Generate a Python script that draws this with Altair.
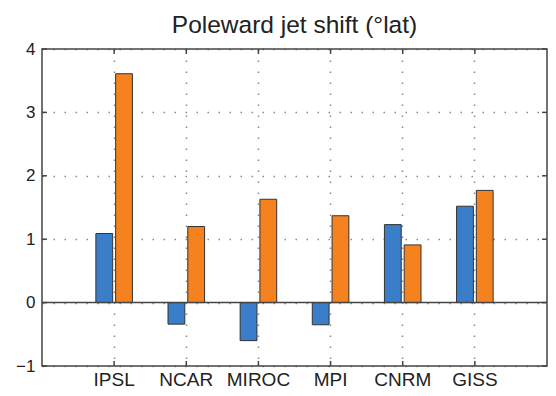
import altair as alt
import pandas as pd

# ---- data ----
models = ["IPSL", "NCAR", "MIROC", "MPI", "CNRM", "GISS"]
series_a = [1.09, -0.34, -0.60, -0.35, 1.23, 1.52]   # blue bars
series_b = [3.61, 1.20, 1.63, 1.37, 0.91, 1.77]      # orange bars
series_names = ["A", "B"]
series_colors = ["#3a7dc9", "#f5821f"]
y_ticks = [-1, 0, 1, 2, 3, 4]
title_text = "Poleward jet shift (°lat)"

rows = []
for m, a, b in zip(models, series_a, series_b):
    rows.append({"model": m, "series": series_names[0], "value": a})
    rows.append({"model": m, "series": series_names[1], "value": b})
bars_df = pd.DataFrame(rows)
cat_df = pd.DataFrame({"model": models})
ytick_df = pd.DataFrame({"value": y_ticks})
zero_df = pd.DataFrame({"value": [0]})

W, H = 505, 317
FONT = "Liberation Sans"
EDGE = "#444"

x_scale = alt.Scale(domain=models, paddingInner=0, paddingOuter=0.5)
y_scale = alt.Scale(domain=[-1, 4], nice=False, zero=False)

x_axis = alt.Axis(
    title=None, orient="bottom", ticks=False, domain=False, labelAngle=0,
    labelFontSize=19, labelFont=FONT, labelColor="#222", labelPadding=4,
    grid=True, gridDash=[1.5, 9.5], gridColor="#888", gridWidth=1.5,
    bandPosition=0.5,
)
y_axis = alt.Axis(
    title=None, values=y_ticks, ticks=False, domain=False,
    labelFontSize=17, labelFont=FONT, labelColor="#222", labelPadding=7,
    grid=True, gridDash=[1.5, 9.5], gridColor="#888", gridWidth=1.5,
    format="d",
)

X = alt.X("model:N", scale=x_scale, axis=x_axis, sort=models)
Y = alt.Y("value:Q", scale=y_scale, axis=y_axis)

bars = alt.Chart(bars_df).mark_bar(stroke="#333", strokeWidth=1).encode(
    x=X,
    xOffset=alt.XOffset("series:N", scale=alt.Scale(domain=series_names, paddingInner=0.15, paddingOuter=0.9)),
    y=Y,
    color=alt.Color("series:N", scale=alt.Scale(domain=series_names, range=series_colors), legend=None),
)

zero_line = alt.Chart(zero_df).mark_rule(color=EDGE, strokeWidth=1.5).encode(y=Y)

# inward ticks (top / bottom) at categories
tick_top = alt.Chart(cat_df).mark_rule(color=EDGE, strokeWidth=1.5).encode(
    x=X, y=alt.value(0), y2=alt.value(5),
)
tick_bot = alt.Chart(cat_df).mark_rule(color=EDGE, strokeWidth=1.5).encode(
    x=X, y=alt.value(H), y2=alt.value(H - 5),
)
# inward ticks (left / right) at y values
tick_left = alt.Chart(ytick_df).mark_rule(color=EDGE, strokeWidth=1.5).encode(
    y=Y, x=alt.value(0), x2=alt.value(5),
)
tick_right = alt.Chart(ytick_df).mark_rule(color=EDGE, strokeWidth=1.5).encode(
    y=Y, x=alt.value(W), x2=alt.value(W - 5),
)

# plot frame
frame = alt.Chart(zero_df).mark_rect(fill=None, fillOpacity=0, stroke=EDGE, strokeWidth=1.5).encode(
    x=alt.value(0), x2=alt.value(W), y=alt.value(0), y2=alt.value(H),
)

chart = alt.layer(bars, zero_line, tick_top, tick_bot, tick_left, tick_right, frame).properties(
    width=W, height=H,
    title=alt.TitleParams(
        text=title_text, font=FONT, fontSize=24.5, fontWeight="normal", color="#222",
        anchor="middle", offset=2,
    ),
    autosize=alt.AutoSizeParams(type="none"),
    padding={"left": 34, "top": 41, "right": 1, "bottom": 22},
    background="white",
).configure_view(
    stroke=None
)

chart.save("out.html", embed_options={"renderer": "svg", "actions": False})
